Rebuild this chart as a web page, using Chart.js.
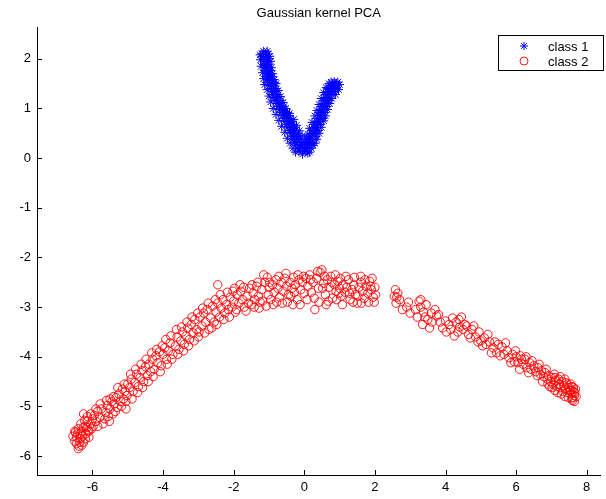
<!DOCTYPE html>
<html>
<head>
<meta charset="utf-8">
<script src="https://cdn.jsdelivr.net/npm/chart.js@4.4.0/dist/chart.umd.min.js"></script>
<style>
html,body{margin:0;padding:0;background:#fff;}
canvas{display:block;}
</style>
</head>
<body>
<canvas id="c" width="606" height="499"></canvas>
<script>
const chartTitle = "Gaussian kernel PCA";
const seriesNames = ["class 1", "class 2"];
const xTicks = [-6, -4, -2, 0, 2, 4, 6, 8];
const yTicks = [-6, -5, -4, -3, -2, -1, 0, 1, 2];
const xRange = [-7.57, 8.39];
const yRange = [-6.38, 2.64];

// class 1: blue V shape  [x, y]
const class1 = [
[-1.15,2.15],[-1.05,2.15],[-1.2,2.1],[-1.1,2.1],[-1.02,2.1],[-1.18,2.05],[-1.08,2.05],
[-1.16,2.0],[-1.06,2.0],[-1.0,2.0],[-1.14,1.94],[-1.05,1.94],[-1.15,1.88],[-1.07,1.88],[-1.0,1.88],
[-1.12,1.82],[-1.03,1.82],[-1.11,1.76],[-1.02,1.76],[-0.96,1.76],[-1.08,1.7],[-0.99,1.7],
[-1.06,1.64],[-0.98,1.64],[-0.9,1.64],[-1.04,1.58],[-0.94,1.58],[-1.02,1.52],[-0.92,1.52],[-0.85,1.52],
[-0.98,1.46],[-0.88,1.46],[-0.95,1.4],[-0.86,1.4],[-0.8,1.4],[-0.92,1.34],[-0.82,1.34],
[-0.9,1.28],[-0.8,1.28],[-0.74,1.28],[-0.86,1.22],[-0.76,1.22],[-0.82,1.16],[-0.72,1.16],[-0.66,1.16],
[-0.78,1.1],[-0.68,1.1],[-0.74,1.04],[-0.64,1.04],[-0.58,1.04],[-0.7,0.98],[-0.6,0.98],
[-0.66,0.92],[-0.56,0.92],[-0.48,0.92],[-0.62,0.86],[-0.52,0.86],[-0.44,0.86],[-0.58,0.8],[-0.48,0.8],[-0.4,0.8],
[-0.55,0.74],[-0.45,0.74],[-0.36,0.74],[-0.5,0.68],[-0.4,0.68],[-0.32,0.68],[-0.46,0.62],[-0.36,0.62],[-0.28,0.62],
[-0.42,0.56],[-0.33,0.56],[-0.24,0.56],[-0.38,0.5],[-0.3,0.5],[-0.2,0.5],[-0.35,0.44],[-0.26,0.44],[-0.16,0.44],
[-0.32,0.38],[-0.22,0.38],[-0.12,0.38],[-0.28,0.32],[-0.18,0.32],[-0.08,0.32],[-0.24,0.26],[-0.14,0.26],[-0.04,0.26],
[-0.2,0.2],[-0.1,0.2],[0.0,0.2],[-0.15,0.14],[-0.05,0.14],[0.05,0.14],
[0.1,0.2],[0.2,0.2],[0.05,0.26],[0.15,0.26],[0.25,0.26],[0.02,0.32],[0.12,0.32],[0.22,0.32],[0.08,0.38],[0.18,0.38],[0.15,0.12],
[0.15,0.44],[0.25,0.44],[0.33,0.44],[0.2,0.5],[0.3,0.5],[0.22,0.56],[0.32,0.56],[0.4,0.56],[0.27,0.62],[0.36,0.62],
[0.3,0.68],[0.39,0.68],[0.46,0.68],[0.34,0.74],[0.43,0.74],[0.37,0.8],[0.46,0.8],[0.53,0.8],[0.4,0.86],[0.5,0.86],
[0.43,0.92],[0.52,0.92],[0.58,0.92],[0.47,0.98],[0.56,0.98],[0.5,1.04],[0.58,1.04],[0.64,1.04],[0.53,1.1],[0.62,1.1],
[0.56,1.16],[0.64,1.16],[0.7,1.16],[0.59,1.22],[0.68,1.22],[0.62,1.28],[0.7,1.28],[0.78,1.28],
[0.66,1.34],[0.75,1.34],[0.84,1.34],[0.7,1.4],[0.8,1.4],[0.9,1.4],[0.75,1.46],[0.85,1.46],[0.93,1.46],
[0.8,1.5],[0.9,1.5],[0.85,1.54],
[-1.25,2.08],[-0.98,2.05],[-1.24,1.98],[-0.95,1.95],[-1.22,1.85],[-0.93,1.82],[-1.18,1.72],[-0.9,1.7],
[-1.15,1.6],[-0.85,1.58],[-1.12,1.48],[-0.8,1.5],[-1.05,1.38],[-0.74,1.36],[-1.0,1.25],[-0.68,1.24],
[-0.95,1.13],[-0.6,1.12],[-0.88,1.0],[-0.52,1.0],[-0.8,0.88],[-0.42,0.9],[-0.72,0.76],[-0.3,0.78],
[-0.64,0.64],[-0.22,0.66],[-0.55,0.52],[-0.14,0.55],[-0.48,0.4],[-0.06,0.45],[-0.4,0.3],[0.02,0.38],
[-0.32,0.2],[0.06,0.28],[-0.25,0.12],[0.1,0.1],[-0.05,0.08],
[0.3,0.3],[0.35,0.38],[0.1,0.48],[0.42,0.5],[0.15,0.6],[0.48,0.62],[0.22,0.72],[0.55,0.75],[0.3,0.85],
[0.6,0.85],[0.36,0.96],[0.66,0.98],[0.42,1.08],[0.72,1.1],[0.48,1.2],[0.78,1.2],[0.55,1.32],[0.88,1.28],
[0.62,1.42],[0.97,1.38],[0.7,1.5],[1.0,1.48],[0.95,1.53],[0.76,1.53]
];

// class 2: red arc  [x, y]
const class2 = [
[-6.45,-5.62],[-6.5,-5.7],[-6.42,-5.55],[-6.38,-5.8],[-6.35,-5.65],[-6.3,-5.5],[-6.4,-5.45],[-6.28,-5.6],
[-6.25,-5.72],[-6.2,-5.4],[-6.33,-5.35],[-6.18,-5.55],[-6.15,-5.3],[-6.12,-5.48],[-6.1,-5.62],[-6.05,-5.35],
[-6.0,-5.25],[-6.22,-5.28],[-6.02,-5.45],[-5.95,-5.18],[-6.48,-5.52],[-6.36,-5.72],[-6.26,-5.42],[-6.14,-5.2],[-5.98,-5.4],
[-5.9,-5.3],[-5.85,-5.1],[-5.8,-5.22],[-5.75,-5.05],[-5.7,-5.35],[-5.62,-5.12],[-5.58,-4.98],[-5.55,-5.2],
[-5.5,-5.05],[-5.45,-4.9],[-5.42,-5.15],[-5.38,-4.95],[-5.33,-4.82],[-5.3,-5.02],[-5.25,-4.75],[-5.2,-4.9],
[-5.15,-4.65],[-5.12,-4.85],[-5.08,-4.7],[-5.05,-5.05],[-5.0,-4.55],[-5.02,-4.78],
[-4.95,-4.62],[-4.9,-4.45],[-4.85,-4.7],[-4.8,-4.52],[-4.75,-4.35],[-4.7,-4.6],[-4.65,-4.42],[-4.6,-4.28],
[-4.55,-4.5],[-4.5,-4.2],[-4.45,-4.38],[-4.4,-4.15],[-4.35,-4.3],[-4.3,-4.05],[-4.25,-4.25],[-4.2,-3.98],
[-4.15,-4.12],[-4.1,-3.9],[-4.05,-4.18],[-4.0,-3.95],
[-3.95,-3.82],[-3.9,-4.05],[-3.85,-3.88],[-3.8,-3.72],[-3.72,-3.95],[-3.65,-3.78],[-3.6,-3.6],[-3.55,-3.85],
[-3.5,-3.68],[-3.45,-3.5],[-3.4,-3.75],[-3.35,-3.58],[-3.3,-3.42],[-3.25,-3.65],[-3.2,-3.35],[-3.15,-3.52],
[-3.1,-3.25],[-3.05,-3.45],[-3.0,-3.6],
[-2.95,-3.2],[-2.9,-3.38],[-2.85,-3.12],[-2.8,-3.3],[-2.75,-3.05],[-2.7,-3.45],[-2.65,-3.22],[-2.6,-2.98],
[-2.55,-3.3],[-2.5,-3.1],[-2.45,-2.92],[-2.4,-3.2],[-2.35,-3.02],[-2.3,-2.85],[-2.25,-3.12],[-2.2,-2.95],
[-2.15,-3.05],[-2.1,-2.8],[-2.05,-3.0],[-2.0,-2.88],
[-1.95,-3.1],[-1.9,-2.75],[-1.85,-2.92],[-1.8,-2.68],[-1.75,-2.85],[-1.7,-3.0],[-1.62,-2.78],[-1.55,-2.62],
[-1.5,-2.95],[-1.45,-2.72],[-1.4,-2.85],[-1.35,-2.58],[-1.3,-2.78],[-1.25,-2.9],[-1.2,-2.65],[-1.12,-2.5],
[-1.05,-2.4],[-1.02,-2.75],[-1.0,-2.6],
[-0.95,-2.85],[-0.9,-2.55],[-0.85,-2.7],[-0.8,-2.45],[-0.75,-2.62],[-0.7,-2.8],[-0.65,-2.5],[-0.6,-2.68],
[-0.55,-2.42],[-0.5,-2.58],[-0.45,-2.75],[-0.4,-2.5],[-0.35,-2.62],[-0.3,-2.4],[-0.25,-2.55],[-0.2,-2.85],
[-0.15,-2.45],[-0.1,-2.65],[-0.05,-2.5],[0.0,-2.72],
[0.05,-2.42],[0.1,-2.58],[0.15,-2.35],[0.2,-2.7],[0.25,-2.5],[0.3,-3.05],[0.35,-2.42],[0.4,-2.62],
[0.45,-2.3],[0.5,-2.25],[0.55,-2.52],[0.6,-2.75],[0.65,-2.45],[0.7,-2.6],[0.75,-2.38],[0.8,-2.82],
[0.85,-2.55],[0.9,-2.68],[0.95,-2.48],[1.0,-2.62],
[1.05,-2.78],[1.1,-2.55],[1.15,-2.7],[1.2,-2.6],[1.25,-2.45],[1.3,-2.85],[1.35,-2.65],[1.4,-2.55],
[1.45,-2.75],[1.5,-2.92],[1.55,-2.6],[1.6,-2.5],[1.65,-2.68],[1.7,-2.82],[1.75,-2.58],[1.8,-2.72],
[1.85,-2.48],[1.9,-2.65],[1.95,-2.8],[2.0,-2.6],[1.98,-2.9],
[2.55,-2.78],[2.6,-2.92],[2.65,-2.72],[2.7,-2.85],[2.9,-3.0],[3.0,-3.12],
[3.15,-3.05],[3.25,-2.88],[3.3,-3.0],[3.38,-3.1],[3.45,-2.95],[3.5,-3.25],[3.55,-3.42],[3.6,-3.12],
[3.7,-3.05],[3.75,-3.18],[3.85,-3.3],[4.0,-3.28],[4.02,-3.5],
[4.1,-3.35],[4.2,-3.22],[4.3,-3.3],[4.4,-3.4],[4.45,-3.2],[4.5,-3.45],[4.55,-3.35],[4.65,-3.55],
[4.75,-3.45],[4.85,-3.6],[4.95,-3.5],[5.0,-3.68],
[5.1,-3.62],[5.15,-3.75],[5.25,-3.7],[5.35,-3.82],[5.45,-3.92],[5.5,-3.75],[5.6,-3.8],[5.65,-3.95],
[5.75,-3.88],[5.8,-4.02],[5.9,-3.95],[5.95,-4.1],[6.0,-4.0],
[6.05,-4.12],[6.12,-3.98],[6.2,-4.15],[6.25,-4.05],[6.3,-4.22],[6.38,-4.12],[6.42,-4.25],[6.5,-4.18],
[6.55,-4.3],[6.62,-4.22],[6.68,-4.35],[6.72,-4.28],[6.78,-4.4],[6.82,-4.32],[6.88,-4.45],[6.92,-4.38],[6.98,-4.5],
[7.0,-4.42],[7.05,-4.55],[7.08,-4.35],[7.12,-4.48],[7.15,-4.6],[7.2,-4.45],[7.22,-4.55],[7.25,-4.62],
[7.3,-4.5],[7.32,-4.7],[7.35,-4.58],[7.4,-4.65],[7.42,-4.52],[7.45,-4.72],[7.5,-4.62],[7.52,-4.68],
[7.55,-4.75],[7.58,-4.6],[7.6,-4.82],[7.62,-4.7],[7.65,-4.78],[7.68,-4.65],[7.6,-4.88],[7.1,-4.68],[6.95,-4.6],
[-6.55,-5.6],[-6.5,-5.5],[-6.45,-5.75],[-6.4,-5.85],[-6.3,-5.78],[-6.2,-5.65],[-6.1,-5.5],[-6.05,-5.15],
[-6.25,-5.15],[-5.9,-5.05],[-6.35,-5.55],[-6.15,-5.42],
[-5.85,-5.4],[-5.78,-4.95],[-5.65,-5.25],[-5.6,-4.88],[-5.52,-5.3],[-5.4,-4.8],[-5.35,-5.1],[-5.28,-4.62],
[-5.18,-5.0],[-5.1,-4.55],[-5.05,-4.9],[-5.5,-4.85],
[-4.92,-4.35],[-4.88,-4.85],[-4.78,-4.25],[-4.72,-4.72],[-4.62,-4.15],[-4.58,-4.62],[-4.48,-4.05],[-4.42,-4.5],
[-4.32,-3.92],[-4.28,-4.4],[-4.18,-3.85],[-4.08,-4.3],[-4.02,-3.78],
[-3.92,-3.65],[-3.88,-4.15],[-3.78,-3.58],[-3.75,-4.05],[-3.62,-3.45],[-3.58,-3.95],[-3.48,-3.4],[-3.42,-3.88],
[-3.32,-3.3],[-3.28,-3.78],[-3.18,-3.2],[-3.12,-3.68],[-3.02,-3.12],
[-2.98,-3.5],[-2.88,-3.02],[-2.82,-3.52],[-2.72,-2.92],[-2.62,-3.42],[-2.52,-2.85],[-2.48,-3.35],[-2.38,-2.75],
[-2.28,-3.25],[-2.18,-2.7],[-2.12,-3.2],[-2.02,-2.68],[-2.45,-2.55],
[-1.98,-2.62],[-1.92,-3.05],[-1.82,-2.55],[-1.72,-2.6],[-1.65,-3.08],[-1.58,-2.92],[-1.48,-2.55],[-1.42,-3.0],
[-1.32,-2.5],[-1.28,-3.02],[-1.18,-2.88],[-1.08,-2.98],[-1.15,-2.35],
[-0.98,-2.5],[-0.88,-2.95],[-0.78,-2.9],[-0.72,-2.38],[-0.62,-2.92],[-0.52,-2.32],[-0.48,-2.9],[-0.38,-2.78],
[-0.28,-2.7],[-0.18,-2.35],[-0.12,-2.95],[-0.02,-2.38],[-0.32,-2.95],
[0.08,-2.85],[0.18,-2.45],[0.28,-2.82],[0.38,-2.28],[0.42,-2.9],[0.52,-2.62],[0.58,-2.38],[0.68,-2.88],
[0.78,-2.5],[0.88,-2.35],[0.92,-2.85],[0.98,-2.72],[0.62,-2.95],
[1.02,-2.42],[1.08,-2.95],[1.18,-2.38],[1.28,-2.72],[1.38,-2.9],[1.42,-2.4],[1.52,-2.78],[1.62,-2.92],
[1.72,-2.45],[1.82,-2.9],[1.88,-2.58],[1.92,-2.42],[2.02,-2.75],[1.6,-2.38],
[2.58,-2.65],[2.62,-2.8],[2.78,-3.05],[2.95,-2.9],
[3.2,-3.2],[3.3,-2.85],[3.42,-3.2],[3.62,-3.3],[3.8,-3.15],[3.92,-3.42],[3.35,-3.35],
[4.15,-3.45],[4.25,-3.58],[4.38,-3.25],[4.6,-3.38],[4.7,-3.62],[4.8,-3.38],[4.92,-3.7],[4.35,-3.5],
[5.05,-3.78],[5.2,-3.55],[5.3,-3.92],[5.4,-3.7],[5.55,-3.98],[5.7,-3.72],[5.85,-4.12],[5.98,-3.88],
[6.1,-4.25],[6.15,-4.05],[6.28,-4.0],[6.35,-4.32],[6.45,-4.08],[6.6,-4.38],[6.65,-4.15],[6.75,-4.5],
[6.85,-4.25],[6.9,-4.55],
[7.02,-4.62],[7.1,-4.42],[7.18,-4.72],[7.25,-4.4],[7.28,-4.75],[7.38,-4.45],[7.38,-4.8],[7.45,-4.55],
[7.48,-4.82],[7.55,-4.55],[7.58,-4.85],[7.62,-4.62],[7.66,-4.72],[7.7,-4.8],[7.55,-4.68],[7.65,-4.9]
];

const FONT = "'Liberation Sans', Arial, Helvetica, sans-serif";
const AX = {left: 37, top: 27, right: 606, bottom: 475};

const toXY = arr => arr.map(p => ({x: p[0], y: p[1]}));

const styles = [
  {pointStyle: 'star', radius: 4.5, borderColor: '#0000ff', backgroundColor: '#0000ff', borderWidth: 1},
  {pointStyle: 'circle', radius: 4.2, borderColor: 'rgba(255,0,0,0.9)', backgroundColor: 'rgba(0,0,0,0)', borderWidth: 1}
];

const matlabDeco = {
  id: 'matlabDeco',
  afterDraw(chart) {
    const ctx = chart.ctx;
    const xs = chart.scales.x, ys = chart.scales.y;
    const ca = chart.chartArea;
    ctx.save();
    ctx.strokeStyle = '#000';
    ctx.lineWidth = 1;
    ctx.beginPath();
    xTicks.forEach(v => {
      const px = Math.round(xs.getPixelForValue(v)) + 0.5;
      ctx.moveTo(px, ca.bottom); ctx.lineTo(px, ca.bottom - 5);
    });
    yTicks.forEach(v => {
      const py = Math.round(ys.getPixelForValue(v)) + 0.5;
      ctx.moveTo(ca.left, py); ctx.lineTo(ca.left + 5, py);
    });
    ctx.stroke();
    // title
    ctx.fillStyle = '#000';
    ctx.font = '13px ' + FONT;
    ctx.textAlign = 'center';
    ctx.textBaseline = 'middle';
    ctx.fillText(chartTitle, (ca.left + ca.right) / 2, 13);
    // legend box
    const bx = 498.5, by = 35.5, bw = 105, bh = 35;
    ctx.fillStyle = '#fff';
    ctx.fillRect(bx, by, bw, bh);
    ctx.strokeStyle = '#000';
    ctx.strokeRect(bx, by, bw, bh);
    ctx.textAlign = 'left';
    const rows = [46, 61];
    rows.forEach((ry, i) => {
      const st = styles[i];
      ctx.strokeStyle = st.borderColor;
      ctx.fillStyle = st.backgroundColor;
      ctx.lineWidth = st.borderWidth;
      Chart.helpers.drawPoint(ctx, {pointStyle: st.pointStyle, radius: 4, rotation: 0, borderWidth: st.borderWidth}, 524, ry);
      ctx.fillStyle = '#000';
      ctx.fillText(seriesNames[i], 548, ry + 1);
    });
    ctx.restore();
  }
};

new Chart(document.getElementById('c'), {
  type: 'scatter',
  data: {
    datasets: [class1, class2].map((arr, i) => ({
      label: seriesNames[i],
      data: toXY(arr),
      pointStyle: styles[i].pointStyle,
      pointRadius: styles[i].radius,
      pointHoverRadius: styles[i].radius,
      borderColor: styles[i].borderColor,
      backgroundColor: styles[i].backgroundColor,
      pointBorderWidth: styles[i].borderWidth,
      borderWidth: styles[i].borderWidth
    }))
  },
  options: {
    responsive: false,
    animation: false,
    devicePixelRatio: 1,
    layout: {padding: {top: AX.top, right: 0, left: 0, bottom: 0}},
    plugins: {legend: {display: false}, title: {display: false}, tooltip: {enabled: false}},
    scales: {
      x: {
        type: 'linear', min: xRange[0], max: xRange[1],
        afterBuildTicks: s => { s.ticks = xTicks.map(v => ({value: v})); },
        afterFit: s => { s.height = 499 - AX.bottom; },
        grid: {display: false, drawTicks: false},
        border: {display: true, color: '#000', width: 1},
        ticks: {color: '#000', font: {family: FONT, size: 13}, padding: 5, maxRotation: 0, autoSkip: false}
      },
      y: {
        type: 'linear', min: yRange[0], max: yRange[1],
        afterBuildTicks: s => { s.ticks = yTicks.map(v => ({value: v})); },
        afterFit: s => { s.width = AX.left; },
        grid: {display: false, drawTicks: false},
        border: {display: true, color: '#000', width: 1},
        ticks: {color: '#000', font: {family: FONT, size: 13}, padding: 6, autoSkip: false}
      }
    }
  },
  plugins: [matlabDeco]
});
</script>
</body>
</html>
